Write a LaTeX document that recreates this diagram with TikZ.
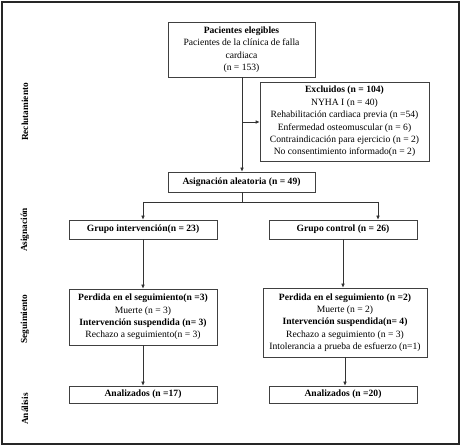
\documentclass[tikz,border=0pt]{standalone}
\usepackage{fontspec}
\setmainfont{Liberation Serif}
\usetikzlibrary{arrows.meta}
\begin{document}
\begin{tikzpicture}[x=1pt,y=-1pt,
  box/.style={draw=black!75,line width=0.6pt,align=center,inner sep=1pt,
    font=\fontsize{9.6}{12.4}\selectfont},
  lbl/.style={rotate=90,font=\fontsize{9.3}{10}\selectfont\bfseries},
  conn/.style={draw=black!80,line width=0.6pt},
  arr/.style={conn,-{Latex[length=4pt,width=3.5pt]}}]
\useasboundingbox (0,0) rectangle (461,446);
\draw[line width=1.3pt,black!85] (2,2) rectangle (459,444);
\node[box,minimum width=147pt,minimum height=55pt] (eleg) at (241.5,49.5)
  {\textbf{Pacientes elegibles}\\Pacientes de la clínica de falla\\cardiaca\\(n = 153)};
\node[box,minimum width=169pt,minimum height=79pt] (excl) at (344.5,121.5)
  {\textbf{Excluidos (n = 104)}\\NYHA I (n = 40)\\Rehabilitación cardiaca previa (n =54)\\Enfermedad osteomuscular (n = 6)\\Contraindicación para ejercicio (n = 2)\\No consentimiento informado(n = 2)};
\node[box,minimum width=147pt,minimum height=20pt] (asig) at (241.5,182)
  {\textbf{Asignación aleatoria (n = 49)}};
\node[box,minimum width=148pt,minimum height=19pt] (gint) at (143,229.5)
  {\textbf{Grupo intervención(n = 23)}};
\node[box,minimum width=148pt,minimum height=19pt] (gcon) at (343,229.5)
  {\textbf{Grupo control (n = 26)}};
\node[box,minimum width=148pt,minimum height=56pt] (pint) at (143,317)
  {\textbf{Perdida en el seguimiento(n =3)}\\Muerte (n = 3)\\\textbf{Intervención suspendida (n= 3)}\\Rechazo a seguimiento(n = 3)};
\node[box,minimum width=164pt,minimum height=69pt] (pcon) at (345,322.5)
  {\textbf{Perdida en el seguimiento (n =2)}\\Muerte (n = 2)\\\textbf{Intervención suspendida(n= 4)}\\Rechazo a seguimiento (n = 3)\\Intolerancia a prueba de esfuerzo (n=1)};
\node[box,minimum width=148pt,minimum height=17pt] (aint) at (143,394.5)
  {\textbf{Analizados (n =17)}};
\node[box,minimum width=148pt,minimum height=17pt] (acon) at (343,394.5)
  {\textbf{Analizados (n =20)}};
\node[lbl] (l1) at (25,112) {Reclutamiento};
\node[lbl] (l2) at (25,230) {Asignación};
\node[lbl] (l3) at (25,319) {Seguimiento};
\node[lbl] (l4) at (25,409) {Análisis};
\coordinate (br1) at (242,122);
\coordinate (br2) at (242,202);
\coordinate (bl) at (143,202);
\coordinate (brr) at (378,202);
\draw[arr] (eleg.south -| br1) -- (asig.north -| br1);
\draw[arr] (br1) -- (excl.west |- br1);
\draw[conn] (asig.south -| br2) -- (br2);
\draw[conn] (bl) -- (brr);
\draw[arr] (bl) -- (gint.north -| bl);
\draw[arr] (brr) -- (gcon.north -| brr);
\draw[arr] (gint.south) -- (pint.north);
\draw[arr] (gcon.south) -- (gcon.south |- pcon.north);
\draw[arr] (pint.south) -- (aint.north);
\draw[arr] (pcon.south) -- (pcon.south |- acon.north);
\end{tikzpicture}
\end{document}
